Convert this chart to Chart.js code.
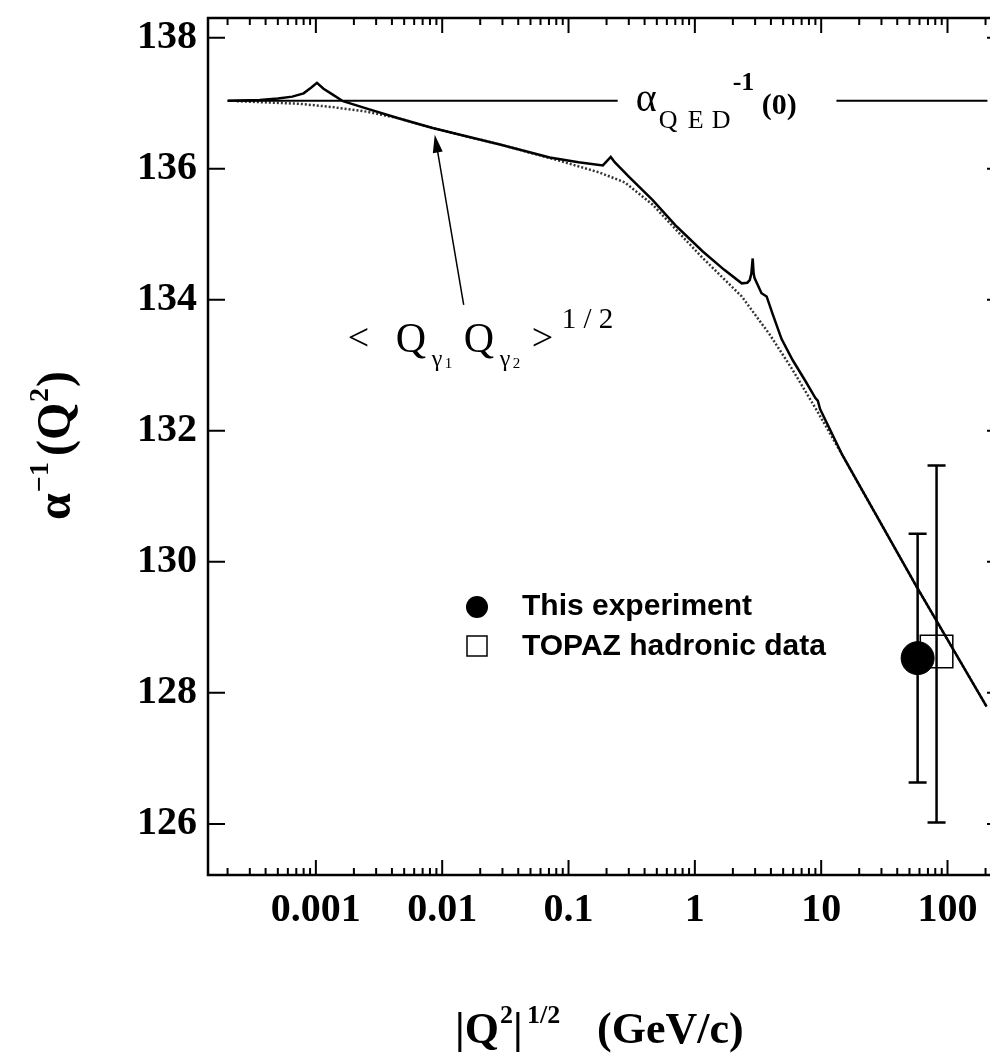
<!DOCTYPE html>
<html>
<head>
<meta charset="utf-8">
<script src="https://cdn.jsdelivr.net/npm/chart.js@4.4.0/dist/chart.umd.min.js"></script>
<style>
  html, body { margin: 0; padding: 0; background: #fff; overflow: hidden; }
  #wrap { width: 1012px; height: 1054px; }
</style>
</head>
<body>
<div id="wrap"><canvas id="chart" width="1012" height="1054"></canvas></div>
<script>
// ---- values ----
// full alpha^-1 (solid, with threshold cusps)
const solidQ = [2.0e-4, 3.6e-4, 5.0e-4, 6.5e-4, 8.0e-4, 9.2e-4, 1.02e-3, 1.15e-3, 1.36e-3, 1.64e-3,
  2.5e-3, 4.5e-3, 8.4e-3, 0.0286, 0.071, 0.12, 0.187, 0.216, 0.232, 0.30, 0.464, 0.70, 1.15, 1.7,
  2.35, 2.6, 2.72, 2.80, 2.87, 2.92, 2.97, 3.37, 3.70, 4.13, 4.86, 5.94, 7.5, 9.0, 9.4, 9.8, 14.8, 56.9, 204];
const solidAlpha = [137.036, 137.05, 137.07, 137.10, 137.15, 137.24, 137.31, 137.22, 137.13, 137.03,
  136.92, 136.77, 136.62, 136.37, 136.17, 136.10, 136.05, 136.18, 136.10, 135.88, 135.52, 135.14, 134.74, 134.46,
  134.25, 134.26, 134.30, 134.40, 134.63, 134.40, 134.33, 134.10, 134.05, 133.78, 133.40, 133.08, 132.76, 132.50, 132.46, 132.33, 131.62, 129.62, 127.79];

// smooth running (dotted)
const runQ = [2.37e-4, 7.5e-4, 1.36e-3, 2.53e-3, 4.5e-3, 8.4e-3, 0.0286, 0.0852, 0.177, 0.279, 0.464,
  0.758, 1.15, 2.35, 3.91, 5.94, 9.37, 14.8, 56.9, 204];
const runAlpha = [137.03, 136.99, 136.94, 136.87, 136.77, 136.62, 136.37, 136.12, 135.94, 135.79, 135.45,
  135.01, 134.64, 134.05, 133.47, 132.93, 132.29, 131.62, 129.62, 127.79];

// alpha_QED^-1(0) reference line (gap for its label)
const qedQ = [2.0e-4, 0.245, 0.5, 13.2, 207];
const qedAlpha = [137.036, 137.036, null, 137.036, 137.036];

// measurements
const expQ = [58.0], expAlpha = [128.53], expLow = [126.63], expHigh = [130.43];
const topazQ = [81.9], topazAlpha = [128.63], topazLow = [126.02], topazHigh = [131.47];

// arrow of the <Q1 Q2>^1/2 annotation (tail -> head)
const arrowQ = [0.0148, 0.00873];
const arrowAlpha = [133.92, 136.52];

const xTicks = [0.001, 0.01, 0.1, 1, 10, 100];
const yTicks = [126, 128, 130, 132, 134, 136, 138];

const SERIF = "'Liberation Serif', 'Times New Roman', serif";
const SANS = "'Liberation Sans', Arial, sans-serif";

function pts(xs, ys) { return xs.map((x, i) => ({x: x, y: ys[i]})); }

// draws a row of text pieces; each piece: [text, font, dx, dy]
function drawPieces(ctx, x0, y0, pieces) {
  pieces.forEach(p => {
    ctx.font = p[1];
    ctx.fillText(p[0], x0 + p[2], y0 + p[3]);
  });
}

// no automatic label padding: the plot box is fixed by layout.padding
function noPad(s) {
  s.paddingLeft = 0; s.paddingRight = 0; s.paddingTop = 0; s.paddingBottom = 0;
}

// box, inward ticks, error bars, annotations, legend, axis titles
const decor = {
  id: 'decor',
  afterDatasetsDraw(chart) {
    const ctx = chart.ctx, xs = chart.scales.x, ys = chart.scales.y;
    ctx.save();
    ctx.strokeStyle = '#000';
    ctx.lineWidth = 2.5;
    // error bars
    [[expQ, expLow, expHigh], [topazQ, topazLow, topazHigh]].forEach(([q, lo, hi]) => {
      q.forEach((v, i) => {
        const px = xs.getPixelForValue(v);
        const y1 = ys.getPixelForValue(lo[i]), y2 = ys.getPixelForValue(hi[i]);
        ctx.beginPath();
        ctx.moveTo(px, y1); ctx.lineTo(px, y2);
        ctx.moveTo(px - 9, y1); ctx.lineTo(px + 9, y1);
        ctx.moveTo(px - 9, y2); ctx.lineTo(px + 9, y2);
        ctx.stroke();
      });
    });
    ctx.restore();
  },
  afterDraw(chart) {
    const ctx = chart.ctx, xs = chart.scales.x, ys = chart.scales.y;
    const a = chart.chartArea;
    ctx.save();
    ctx.strokeStyle = '#000';
    ctx.fillStyle = '#000';

    // frame
    ctx.lineWidth = 2.5;
    ctx.strokeRect(a.left, a.top, a.right - a.left, a.bottom - a.top);

    // x ticks (log, inward, top and bottom)
    ctx.lineWidth = 2;
    ctx.beginPath();
    for (let e = -4; e <= 3; e++) {
      for (let m = 1; m <= 9; m++) {
        const v = m * Math.pow(10, e);
        if (v < xs.min || v > xs.max) continue;
        const px = xs.getPixelForValue(v);
        const len = m === 1 ? 15 : 7;
        ctx.moveTo(px, a.bottom); ctx.lineTo(px, a.bottom - len);
        ctx.moveTo(px, a.top); ctx.lineTo(px, a.top + len);
      }
    }
    // y ticks (inward, left and right)
    yTicks.forEach(v => {
      const py = ys.getPixelForValue(v);
      ctx.moveTo(a.left, py); ctx.lineTo(a.left + 17, py);
      ctx.moveTo(a.right, py); ctx.lineTo(a.right - 17, py);
    });
    ctx.stroke();

    // arrow
    const tx = xs.getPixelForValue(arrowQ[0]), ty = ys.getPixelForValue(arrowAlpha[0]);
    const hx = xs.getPixelForValue(arrowQ[1]), hy = ys.getPixelForValue(arrowAlpha[1]);
    const ang = Math.atan2(hy - ty, hx - tx);
    ctx.lineWidth = 1.5;
    ctx.beginPath();
    ctx.moveTo(tx, ty); ctx.lineTo(hx - 12 * Math.cos(ang), hy - 12 * Math.sin(ang));
    ctx.stroke();
    ctx.beginPath();
    ctx.moveTo(hx, hy);
    ctx.lineTo(hx - 18 * Math.cos(ang) + 5 * Math.sin(ang), hy - 18 * Math.sin(ang) - 5 * Math.cos(ang));
    ctx.lineTo(hx - 18 * Math.cos(ang) - 5 * Math.sin(ang), hy - 18 * Math.sin(ang) + 5 * Math.cos(ang));
    ctx.closePath();
    ctx.fill();

    ctx.textBaseline = 'alphabetic';
    ctx.textAlign = 'left';

    // alpha_QED^-1(0) label, placed in the gap of the line
    const qx = xs.getPixelForValue(0.34), qy = ys.getPixelForValue(137.036);
    drawPieces(ctx, qx, qy, [
      ['\u03b1', '40px ' + SERIF, 0, 10],
      ['Q', '26px ' + SERIF, 23, 27],
      ['E', '26px ' + SERIF, 52, 27],
      ['D', '26px ' + SERIF, 76, 27],
      ['-1', 'bold 26px ' + SERIF, 97, -11],
      ['(0)', 'bold 30px ' + SERIF, 126, 13]
    ]);

    // <Q_g1 Q_g2>^1/2 label
    const gx = xs.getPixelForValue(1.79e-3), gy = ys.getPixelForValue(133.24);
    drawPieces(ctx, gx, gy, [
      ['<', '38px ' + SERIF, 0, 0],
      ['Q', '42px ' + SERIF, 48, 2],
      ['\u03b3', '24px ' + SERIF, 84, 16],
      ['1', '15px ' + SERIF, 97, 18],
      ['Q', '42px ' + SERIF, 116, 2],
      ['\u03b3', '24px ' + SERIF, 152, 16],
      ['2', '15px ' + SERIF, 165, 18],
      ['>', '38px ' + SERIF, 184, 0],
      ['1 / 2', '29px ' + SERIF, 214, -22]
    ]);

    // legend
    ctx.beginPath();
    ctx.arc(477, 607, 11, 0, Math.PI * 2);
    ctx.fill();
    ctx.lineWidth = 1.5;
    ctx.strokeRect(467, 636, 20, 20);
    ctx.font = 'bold 30px ' + SANS;
    ctx.textBaseline = 'middle';
    ctx.fillText('This experiment', 522, 607);
    ctx.fillText('TOPAZ hadronic data', 522, 647);
    ctx.textBaseline = 'alphabetic';

    // x axis title
    drawPieces(ctx, 455, 1043, [
      ['|Q', 'bold 44px ' + SERIF, 0, 0],
      ['2', 'bold 26px ' + SERIF, 45, -20],
      ['|', 'bold 44px ' + SERIF, 58, 0],
      ['1/2', 'bold 26px ' + SERIF, 72, -20],
      ['(GeV/c)', 'bold 44px ' + SERIF, 142, 0]
    ]);

    // y axis title (rotated)
    ctx.translate(70, 443);
    ctx.rotate(-Math.PI / 2);
    drawPieces(ctx, -77, 0, [
      ['\u03b1', 'bold 48px ' + SERIF, 0, 0],
      ['\u22121', 'bold 28px ' + SERIF, 28, -22],
      ['(Q', 'bold 48px ' + SERIF, 64, 0],
      ['2', 'bold 28px ' + SERIF, 118, -22],
      [')', 'bold 48px ' + SERIF, 133, 0]
    ]);
    ctx.restore();
  }
};

const chartDOM = document.getElementById('chart');
const chart = new Chart(chartDOM, {
  type: 'scatter',
  data: {
    datasets: [
      {
        label: 'This experiment',
        data: pts(expQ, expAlpha),
        pointStyle: 'circle',
        pointRadius: 16.5,
        backgroundColor: '#000',
        borderColor: '#000',
        borderWidth: 1
      },
      {
        label: 'TOPAZ hadronic data',
        data: pts(topazQ, topazAlpha),
        pointStyle: 'rect',
        pointRadius: 23,
        backgroundColor: 'rgba(0,0,0,0)',
        borderColor: '#000',
        borderWidth: 1.5
      },
      {
        label: 'alpha^-1',
        data: pts(solidQ, solidAlpha),
        showLine: true,
        pointRadius: 0,
        borderColor: '#000',
        borderWidth: 2.5,
        tension: 0
      },
      {
        label: 'alpha_QED^-1(0)',
        data: pts(qedQ, qedAlpha),
        showLine: true,
        spanGaps: false,
        pointRadius: 0,
        borderColor: '#000',
        borderWidth: 2,
        tension: 0
      },
      {
        label: 'smooth',
        data: pts(runQ, runAlpha),
        showLine: true,
        pointRadius: 0,
        borderColor: '#333',
        borderWidth: 2.5,
        borderDash: [2, 2],
        tension: 0
      }
    ]
  },
  options: {
    responsive: false,
    animation: false,
    layout: { autoPadding: false, padding: { top: 18, right: 8, left: 0, bottom: 0 } },
    plugins: {
      legend: { display: false },
      tooltip: { enabled: false }
    },
    scales: {
      x: {
        type: 'logarithmic',
        min: 1.4e-4,
        max: 280,
        grid: { display: false },
        border: { display: false },
        afterBuildTicks: s => { s.ticks = xTicks.map(v => ({value: v})); },
        afterFit: s => { s.height = 179; noPad(s); },
        ticks: {
          autoSkip: false,
          maxRotation: 0,
          padding: 4,
          color: '#000',
          font: { family: SERIF, size: 40, weight: 'bold' },
          callback: v => String(v)
        }
      },
      y: {
        min: 125.22,
        max: 138.3,
        grid: { display: false },
        border: { display: false },
        afterBuildTicks: s => { s.ticks = yTicks.map(v => ({value: v})); },
        afterFit: s => { s.width = 208; noPad(s); },
        ticks: {
          padding: 3,
          color: '#000',
          font: { family: SERIF, size: 40, weight: 'bold' },
          callback: v => String(v)
        }
      }
    }
  },
  plugins: [decor]
});
</script>
</body>
</html>
